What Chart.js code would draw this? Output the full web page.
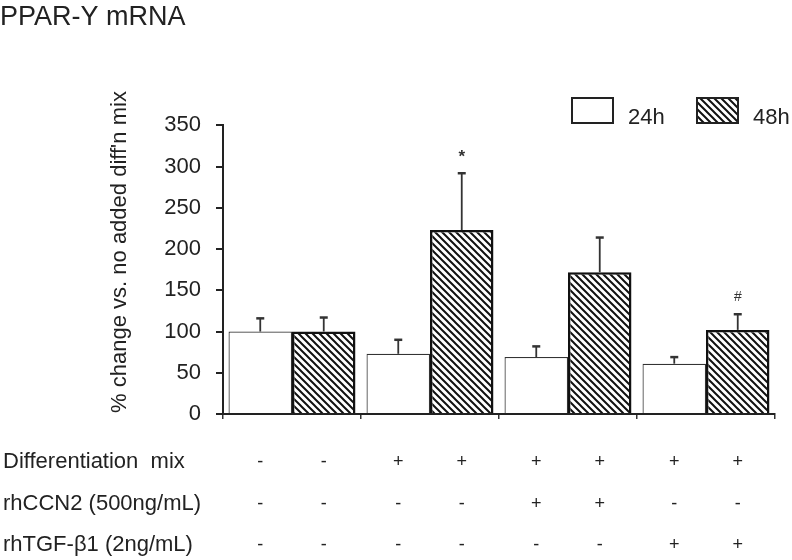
<!DOCTYPE html>
<html>
<head>
<meta charset="utf-8">
<script src="https://cdn.jsdelivr.net/npm/chart.js@4.4.1/dist/chart.umd.min.js"></script>
<style>
  html, body { margin: 0; padding: 0; background: #fff; }
  #wrap { width: 792px; height: 560px; }
</style>
</head>
<body>
<div id="wrap"><canvas id="c" width="792" height="560"></canvas></div>
<script>
// ---- data ----
const categories = ['No diff mix', 'Diff mix', 'Diff mix + rhCCN2', 'Diff mix + rhTGF-β1'];
const seriesLabels = ['24h', '48h'];
const values24h = [100, 73, 69, 61];
const values48h = [100, 223, 172, 102];
const err24h = [16, 17, 13, 8];
const err48h = [17, 69, 42, 19];
const marks24h = ['', '', '', ''];
const marks48h = ['', '*', '', '#'];
const yMin = 0, yMax = 350, yStep = 50;
const titleText = 'PPAR-Y mRNA';
const yTitleText = "% change vs. no added diff'n mix";
const rowLabels = ['Differentiation  mix', 'rhCCN2 (500ng/mL)', 'rhTGF-β1 (2ng/mL)'];
const rowSigns = [
  ['-', '-', '+', '+', '+', '+', '+', '+'],
  ['-', '-', '-', '-', '+', '+', '-', '-'],
  ['-', '-', '-', '-', '-', '-', '+', '+']
];

const FONT = "'Liberation Sans', Arial, Helvetica, sans-serif";
const INK = '#222';

function makeHatch() {
  const s = 7;
  const c = document.createElement('canvas');
  c.width = s; c.height = s;
  const g = c.getContext('2d');
  g.fillStyle = '#fff';
  g.fillRect(0, 0, s, s);
  g.strokeStyle = '#111';
  g.lineWidth = 2;
  g.beginPath();
  g.moveTo(-2, -2); g.lineTo(s + 2, s + 2);
  g.moveTo(-2, s - 2); g.lineTo(2, s + 2);
  g.moveTo(s - 2, -2); g.lineTo(s + 2, 2);
  g.stroke();
  return g.createPattern(c, 'repeat');
}
const hatch = makeHatch();

const errs = [err24h, err48h];
const marks = [marks24h, marks48h];

const extras = {
  id: 'extras',
  afterDatasetsDraw(chart) {
    const ctx = chart.ctx;
    const y = chart.scales.y;
    ctx.save();
    chart.data.datasets.forEach((ds, di) => {
      const meta = chart.getDatasetMeta(di);
      meta.data.forEach((el, i) => {
        const v = ds.data[i];
        const top = y.getPixelForValue(v + errs[di][i]);
        ctx.strokeStyle = '#333';
        ctx.lineWidth = 1.8;
        ctx.beginPath();
        ctx.moveTo(el.x, el.y);
        ctx.lineTo(el.x, top);
        ctx.stroke();
        ctx.lineWidth = 2.5;
        ctx.beginPath();
        ctx.moveTo(el.x - 4, top);
        ctx.lineTo(el.x + 4, top);
        ctx.stroke();
        const m = marks[di][i];
        if (m) {
          ctx.fillStyle = '#333';
          ctx.font = (m === '#' ? 'italic 14px ' : 'bold 17px ') + FONT;
          ctx.textAlign = 'center';
          ctx.textBaseline = 'middle';
          ctx.fillText(m, el.x, top - (m === '#' ? 17 : 16));
        }
      });
    });
    ctx.restore();
  },
  afterDraw(chart) {
    const ctx = chart.ctx;
    ctx.save();
    // y axis title
    ctx.fillStyle = INK;
    ctx.font = '22px ' + FONT;
    ctx.textAlign = 'center';
    ctx.textBaseline = 'middle';
    ctx.translate(120, 252);
    ctx.rotate(-Math.PI / 2);
    ctx.fillText(yTitleText, 0, 0);
    ctx.setTransform(1, 0, 0, 1, 0, 0);
    // legend
    const legendX = [572, 697];
    chart.data.datasets.forEach((ds, di) => {
      const bx = legendX[di], by = 98, bw = 41, bh = 25;
      ctx.fillStyle = ds.backgroundColor;
      ctx.fillRect(bx, by, bw, bh);
      ctx.strokeStyle = '#222';
      ctx.lineWidth = 2;
      ctx.strokeRect(bx, by, bw, bh);
      ctx.fillStyle = INK;
      ctx.font = '22px ' + FONT;
      ctx.textAlign = 'left';
      ctx.textBaseline = 'middle';
      ctx.fillText(ds.label, bx + bw + 15, by + 20);
    });
    // condition table
    const xs = [];
    for (let i = 0; i < categories.length; i++) {
      chart.data.datasets.forEach((ds, di) => {
        xs.push(chart.getDatasetMeta(di).data[i].x);
      });
    }
    const rowY = [462, 504, 545];
    rowLabels.forEach((lab, r) => {
      ctx.fillStyle = INK;
      ctx.font = '22px ' + FONT;
      ctx.textAlign = 'left';
      ctx.textBaseline = 'middle';
      ctx.fillText(lab, 3, rowY[r]);
      rowSigns[r].forEach((s, k) => {
        ctx.font = '18px ' + FONT;
        ctx.textAlign = 'center';
        ctx.fillText(s, xs[k], rowY[r]);
      });
    });
    ctx.restore();
  }
};

new Chart(document.getElementById('c'), {
  type: 'bar',
  data: {
    labels: categories,
    datasets: [
      { label: seriesLabels[0], data: values24h, backgroundColor: '#ffffff', borderColor: '#333', borderWidth: 1.2 },
      { label: seriesLabels[1], data: values48h, backgroundColor: hatch, borderColor: '#111', borderWidth: 2.5 }
    ]
  },
  plugins: [extras],
  options: {
    responsive: false,
    animation: false,
    devicePixelRatio: 1,
    categoryPercentage: 0.92,
    barPercentage: 1.0,
    layout: { padding: { left: 0, right: 17, top: 0, bottom: 141 } },
    plugins: {
      legend: { display: false },
      tooltip: { enabled: false },
      title: {
        display: true, text: titleText, align: 'start', color: INK,
        font: { family: FONT, size: 27, weight: 'normal' },
        padding: { top: 1, bottom: 92 }
      }
    },
    scales: {
      x: {
        grid: { display: true, drawOnChartArea: false, drawTicks: true, tickLength: 5, color: '#333', lineWidth: 1.5 },
        border: { color: '#222', width: 2 },
        ticks: { display: false }
      },
      y: {
        min: yMin, max: yMax,
        afterFit: (s) => { s.width = 223; },
        grid: { display: true, drawOnChartArea: false, drawTicks: true, tickLength: 7, color: '#222', lineWidth: 2 },
        border: { color: '#222', width: 2 },
        ticks: { stepSize: yStep, padding: 15, color: INK, font: { family: FONT, size: 22 } },
        title: { display: false }
      }
    }
  }
});
</script>
</body>
</html>
